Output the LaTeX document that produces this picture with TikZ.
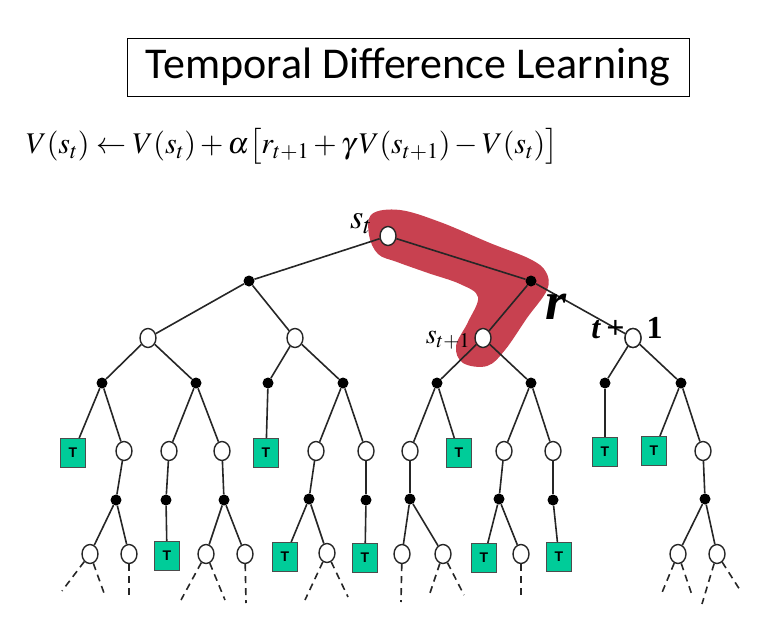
\documentclass[tikz,border=0pt]{standalone}
\usepackage{mathptmx}
\usepackage[no-math]{fontspec}
\setmainfont{Carlito}
\newfontfamily\tfont{Liberation Sans}
\newfontfamily\rfont{Liberation Serif}
\usetikzlibrary{shapes.geometric}

\definecolor{hilite}{RGB}{200,65,80}
\definecolor{termgreen}{RGB}{0,204,153}

\tikzset{
  edge/.style={line width=1.6pt,draw=black!85},
  fade/.style={edge,dash pattern=on 7pt off 5pt},
  stnode/.style={ellipse,draw=black!85,line width=1.4pt,fill=white,
    minimum width=16pt,minimum height=19pt,inner sep=0pt},
  actnode/.style={circle,fill=black,minimum size=11pt,inner sep=0pt},
  termbox/.style={rectangle,draw=black!70,line width=1pt,fill=termgreen,
    minimum width=25pt,minimum height=29pt,inner sep=0pt,
    font=\tfont\bfseries\fontsize{14}{14}\selectfont}
}

\begin{document}
\begin{tikzpicture}[x=1pt,y=-1pt]
  \useasboundingbox (0,0) rectangle (777,621);

  % title and update rule
  \node[draw,line width=1pt,minimum width=562pt,minimum height=58pt,
    font=\fontsize{44}{44}\selectfont] (title) at (408,67) {Temporal Difference Learning};
  \node[font=\fontsize{30}{30}\selectfont] (rule) at (292,146)
    {$V(s_t)\leftarrow V(s_t)+\alpha\bigl[r_{t+1}+\gamma\,V(s_{t+1})-V(s_t)\bigr]$};

  % backup highlight
  \fill[hilite] plot[smooth cycle,tension=.6] coordinates {
    (372,214) (400,210) (440,222) (490,243) (530,259) (546,272) (547,290)
    (527,318) (505,350) (487,366) (463,363) (456,346) (468,322) (478,297)
    (460,284) (428,273) (397,262) (378,254) (369,235)};

  % state nodes
  \foreach \n/\x/\y in {r0/388/236, s1/148/338, s2/295/338, s3/483/338, s4/633/338,
      s5/124/451, s6/169/451, s7/222/451, s8/316/451, s9/366/451, s10/410/451,
      s11/504/451, s12/553/451, s13/703/451,
      u1/90/554, u2/129/554, u3/206/554, u4/245/554, u5/327/553, u6/402/554,
      u7/443/554, u8/521/554, u9/678/554, u10/717/554}
    \node[stnode] (\n) at (\x,\y) {};

  % action nodes
  \foreach \n/\x/\y in {a1/249/281, a2/531/281,
      a11/102/383, a12/196/383, a21/268/383, a22/343/383,
      a31/437/383, a32/531/383, a41/605/383, a42/681/383,
      b5/116/500, b6/166/500, b7/224/500, b8/309/499, b9/366/500,
      b10/410/499, b11/499/499, b12/553/500, b13/705/499}
    \node[actnode] (\n) at (\x,\y) {};

  % terminal states
  \foreach \n/\x/\y in {t1/73/453, t2/266/453, t3/459/453, t4/605/452, t5/654/451,
      t6/167/556, t7/285/557, t8/365/558, t9/484/558, t10/559/557}
    \node[termbox] (\n) at (\x,\y) {T};

  % tree edges
  \foreach \a/\b in {r0/a1, r0/a2, a1/s1, a1/s2, a2/s3, a2/s4,
      s1/a11, s1/a12, s2/a21, s2/a22, s3/a31, s3/a32, s4/a41, s4/a42,
      a11/t1, a11/s5, a12/s6, a12/s7, a21/t2, a22/s8, a22/s9,
      a31/s10, a31/t3, a32/s11, a32/s12, a41/t4, a42/t5, a42/s13,
      s5/b5, s6/b6, s7/b7, s8/b8, s9/b9, s10/b10, s11/b11, s12/b12, s13/b13,
      b5/u1, b5/u2, b6/t6, b7/u3, b7/u4, b8/t7, b8/u5, b9/t8,
      b10/u6, b10/u7, b11/t9, b11/u8, b12/t10, b13/u9, b13/u10}
    \draw[edge] (\a) -- (\b);

  % continuation stubs
  \foreach \a/\d/\x/\y in {u1/d1/62/591, u1/d2/104/593, u2/d3/129/598,
      u3/d4/181/600, u3/d5/225/600, u4/d6/246/603, u5/d7/305/600, u5/d8/348/597,
      u6/d9/401/602, u7/d10/429/596, u7/d11/464/595, u8/d12/521/597,
      u9/d13/661/595, u9/d14/692/595, u10/d15/702/604, u10/d16/740/590}{
    \coordinate (\d) at (\x,\y);
    \draw[fade] (\a) -- (\d);
  }

  % labels
  \node[font=\fontsize{34}{34}\selectfont] (lst) at (361,224) {$s_t$};
  \node[font=\fontsize{28}{28}\selectfont] (lsn) at (448,340) {$s_{t+1}$};
  \node[font=\rfont\bfseries\itshape\fontsize{54}{54}\selectfont] (lr) at (556,307) {r};
  \node[font=\rfont\bfseries\fontsize{32}{32}\selectfont] (lsub) at (627,328)
    {\textit{t}\,+\hspace{22pt}1};
  \node[stnode] at (s4) {};
\end{tikzpicture}
\end{document}
